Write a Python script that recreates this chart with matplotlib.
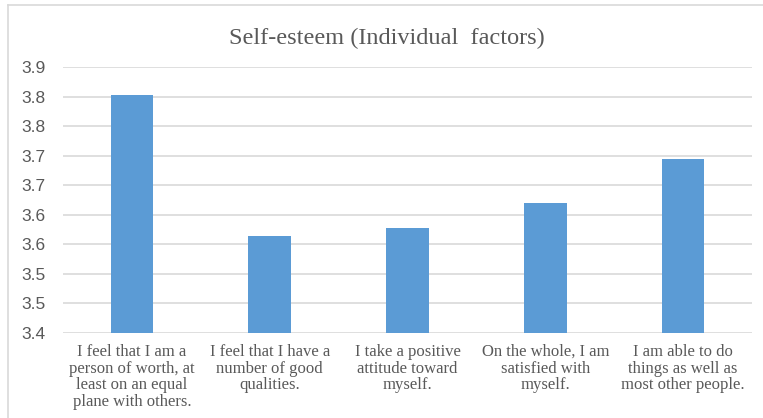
import matplotlib
matplotlib.use('Agg')
import matplotlib.pyplot as plt
from matplotlib.lines import Line2D

# 数据
categories = [
    "I feel that I am a\nperson of worth, at\nleast on an equal\nplane with others.",
    "I feel that I have a\nnumber of good\nqualities.",
    "I take a positive\nattitude toward\nmyself.",
    "On the whole, I am\nsatisfied with\nmyself.",
    "I am able to do\nthings as well as\nmost other people.",
]
values = [3.803, 3.564, 3.577, 3.620, 3.694]
y_ticks = [3.40, 3.45, 3.50, 3.55, 3.60, 3.65, 3.70, 3.75, 3.80, 3.85]
y_tick_labels = ["3.4", "3.5", "3.5", "3.6", "3.6", "3.7", "3.7", "3.8", "3.8", "3.9"]
title = "Self-esteem (Individual  factors)"

bar_color = '#5B9BD5'
grid_color = '#D9D9D9'
text_color = '#595959'

fig = plt.figure(figsize=(7.63, 4.18), dpi=100)
ax = fig.add_axes([0.0826, 0.204, 0.903, 0.635])

x = range(len(categories))
ax.bar(x, [v - 3.4 for v in values], bottom=3.4, width=0.31, color=bar_color, zorder=3)

ax.set_xlim(-0.5, len(categories) - 0.5)
ax.set_ylim(3.4, 3.85)
ax.set_yticks(y_ticks)
ax.set_yticklabels(y_tick_labels, family='Liberation Sans', fontsize=12.5, color=text_color)
ax.set_xticks(list(x))
ax.set_xticklabels(categories, family='Liberation Serif', fontsize=12,
                   color=text_color, linespacing=1.06)
ax.tick_params(axis='both', length=0)
ax.tick_params(axis='x', pad=8)
ax.tick_params(axis='y', pad=12.3)

ax.grid(axis='y', color=grid_color, linewidth=1.2, zorder=0)
for s in ax.spines.values():
    s.set_visible(False)

fig.text(0.5066, 0.907, title, family='Liberation Serif', fontsize=17.5,
         color=text_color, ha='center', va='center')

# 图表边框（上、左）
fig.add_artist(Line2D([0.0105, 1.0], [0.989, 0.989], color='#D9D9D9', linewidth=1.2))
fig.add_artist(Line2D([0.0105, 0.0105], [0.0, 0.989], color='#D9D9D9', linewidth=1.2))

fig.savefig('out.png', dpi=100)
